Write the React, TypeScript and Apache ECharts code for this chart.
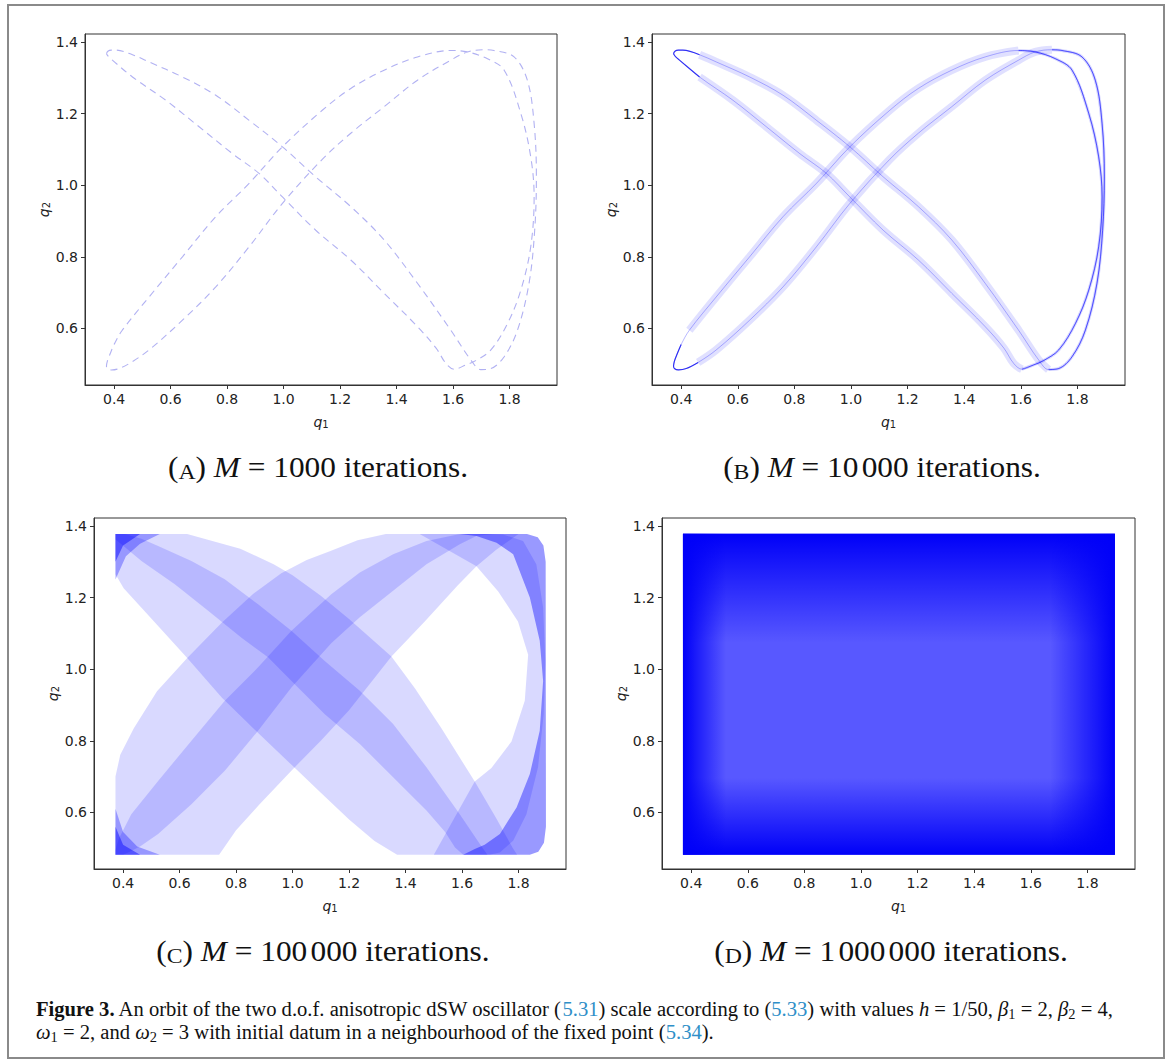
import React, { useEffect, useRef } from 'react';
import * as echarts from 'echarts';

// ---------- axes ----------
const xTicks = [0.4, 0.6, 0.8, 1.0, 1.2, 1.4, 1.6, 1.8];
const yTicks = [0.6, 0.8, 1.0, 1.2, 1.4];
const xRange = [0.297, 1.968];
const yRange = [0.442, 1.422];

// ---------- orbit strands (A) and (B) ----------
const strandD1 = [
  [0.373, 1.367], [0.378, 1.374], [0.390, 1.377], [0.406, 1.377], [0.465, 1.364], [0.524, 1.344],
  [0.642, 1.302], [0.760, 1.251], [0.878, 1.181], [0.996, 1.107], [1.114, 1.023], [1.238, 0.940],
  [1.356, 0.847], [1.474, 0.726], [1.592, 0.595], [1.663, 0.512], [1.698, 0.485],
];
const strandRightOuter = [
  [1.698, 0.485], [1.734, 0.488], [1.781, 0.521], [1.828, 0.595], [1.869, 0.726], [1.889, 0.874],
  [1.895, 1.023], [1.887, 1.172], [1.863, 1.293], [1.816, 1.358], [1.745, 1.376], [1.710, 1.378],
];
const strandU2 = [
  [1.710, 1.378], [1.651, 1.372], [1.592, 1.349], [1.474, 1.293], [1.356, 1.219], [1.238, 1.145],
  [1.137, 1.072], [0.996, 0.949], [0.878, 0.828], [0.760, 0.716], [0.642, 0.623], [0.524, 0.540],
  [0.460, 0.505], [0.418, 0.488], [0.390, 0.484], [0.376, 0.488], [0.373, 0.495],
];
const strandU1 = [
  [0.373, 0.495], [0.376, 0.508], [0.384, 0.525], [0.400, 0.555], [0.429, 0.595], [0.524, 0.688],
  [0.642, 0.800], [0.760, 0.912], [0.878, 1.005], [0.996, 1.107], [1.137, 1.209], [1.238, 1.270],
  [1.356, 1.321], [1.474, 1.358], [1.592, 1.376],
];
const strandRightInner = [
  [1.592, 1.376], [1.651, 1.372], [1.722, 1.353], [1.781, 1.321], [1.840, 1.200], [1.875, 1.079],
  [1.887, 0.967], [1.875, 0.828], [1.840, 0.707], [1.793, 0.614], [1.734, 0.540], [1.680, 0.510],
  [1.645, 0.498], [1.604, 0.486],
];
const strandD2 = [
  [1.604, 0.486], [1.575, 0.502], [1.540, 0.545], [1.474, 0.605], [1.356, 0.698], [1.238, 0.791],
  [1.114, 0.874], [0.996, 0.967], [0.913, 1.033], [0.819, 1.088], [0.701, 1.163], [0.583, 1.237],
  [0.465, 1.302], [0.394, 1.349], [0.380, 1.359], [0.373, 1.367],
];

// ---------- coverage regions ----------
const cBandDRa = [
  [0.373, 1.377], [0.627, 1.377], [0.697, 1.362], [0.815, 1.336], [0.933, 1.293], [1.0, 1.262],
  [1.1, 1.205], [1.2, 1.140], [1.35, 1.035], [1.433, 0.947], [1.527, 0.835], [1.645, 0.686],
  [1.72, 0.585], [1.78, 0.50], [1.795, 0.482],
  [1.604, 0.482], [1.575, 0.502], [1.540, 0.545], [1.474, 0.605], [1.356, 0.698], [1.238, 0.791],
  [1.114, 0.874], [0.996, 0.967], [0.913, 1.033], [0.819, 1.088], [0.701, 1.163], [0.583, 1.237],
  [0.465, 1.302], [0.394, 1.349], [0.373, 1.362],
];
const cBandDRb = [
  [0.373, 1.377], [0.406, 1.377], [0.465, 1.364], [0.524, 1.344], [0.642, 1.302], [0.760, 1.251],
  [0.878, 1.181], [0.996, 1.107], [1.114, 1.023], [1.238, 0.940], [1.356, 0.847], [1.474, 0.726],
  [1.592, 0.595], [1.663, 0.512], [1.690, 0.482],
  [1.37, 0.482], [1.29, 0.52], [1.2, 0.58], [1.1, 0.655], [1.0, 0.73], [0.88, 0.82], [0.75, 0.92],
  [0.627, 1.031], [0.52, 1.124], [0.402, 1.226], [0.373, 1.265],
];
const cBandURa = [
  [0.373, 0.70], [0.39, 0.761], [0.438, 0.835], [0.52, 0.938], [0.627, 1.031], [0.75, 1.13],
  [0.86, 1.21], [0.96, 1.268], [1.05, 1.305], [1.134, 1.33], [1.23, 1.36], [1.33, 1.377],
  [1.71, 1.377], [1.651, 1.372], [1.592, 1.349], [1.474, 1.293], [1.356, 1.219], [1.238, 1.145],
  [1.137, 1.072], [0.996, 0.949], [0.878, 0.828], [0.760, 0.716], [0.642, 0.623], [0.524, 0.540],
  [0.460, 0.505], [0.418, 0.488], [0.40, 0.482], [0.373, 0.482],
];
const cBandURb = [
  [0.373, 0.482], [0.373, 0.495], [0.384, 0.525], [0.429, 0.595], [0.524, 0.688], [0.642, 0.800],
  [0.760, 0.912], [0.878, 1.005], [0.996, 1.107], [1.137, 1.209], [1.238, 1.270], [1.356, 1.321],
  [1.474, 1.358], [1.592, 1.377],
  [1.80, 1.377], [1.72, 1.333], [1.651, 1.287], [1.586, 1.235], [1.468, 1.133], [1.35, 1.035],
  [1.2, 0.885], [1.1, 0.80], [1.0, 0.72], [0.88, 0.62], [0.80, 0.55], [0.74, 0.482],
];
const cRimRight = [
  [1.592, 1.377], [1.83, 1.377], [1.868, 1.368], [1.888, 1.345], [1.896, 1.30], [1.897, 0.56],
  [1.89, 0.515], [1.87, 0.490], [1.84, 0.482], [1.604, 0.482],
  [1.645, 0.498], [1.680, 0.510], [1.734, 0.540], [1.793, 0.614], [1.840, 0.707], [1.875, 0.828],
  [1.887, 0.967], [1.875, 1.079], [1.840, 1.200], [1.781, 1.321], [1.722, 1.353], [1.651, 1.372],
];
const cLobeRight = [
  [1.45, 1.377], [1.71, 1.377], [1.745, 1.376], [1.816, 1.358], [1.863, 1.293], [1.887, 1.172],
  [1.895, 1.023], [1.889, 0.874], [1.869, 0.726], [1.828, 0.595], [1.781, 0.521], [1.734, 0.488],
  [1.698, 0.482], [1.50, 0.482],
  [1.645, 0.686], [1.704, 0.724], [1.775, 0.798], [1.822, 0.912], [1.834, 1.04], [1.798, 1.133],
  [1.728, 1.217], [1.651, 1.287],
];
const cCornerTL = [[0.373, 1.377], [0.53, 1.377], [0.46, 1.35], [0.41, 1.315], [0.373, 1.25]];
const cCornerTLcore = [[0.373, 1.377], [0.46, 1.377], [0.40, 1.345], [0.373, 1.30]];
const cCornerBL = [[0.373, 0.482], [0.53, 0.482], [0.45, 0.505], [0.40, 0.545], [0.373, 0.61]];
const cCornerBLcore = [[0.373, 0.482], [0.46, 0.482], [0.40, 0.51], [0.373, 0.56]];

// ---------- panel (D) filled extent ----------
const dExtent = [[0.371, 0.482], [1.897, 1.378]];

// ---------- captions ----------
const panelLetters = ['A', 'B', 'C', 'D'];
const panelCounts = [['1000'], ['10', '000'], ['100', '000'], ['1', '000', '000']];

const grids = [
  { left: 85, top: 34, width: 472, height: 351 },
  { left: 652, top: 34, width: 473, height: 351 },
  { left: 94, top: 518, width: 472, height: 351 },
  { left: 662, top: 518, width: 473, height: 351 },
];
const captionPos = [[318, 467], [882, 467], [323, 951], [891, 951]];

const axisNameRich = {
  i: { fontStyle: 'italic', fontSize: 14, fontFamily: 'DejaVu Sans', color: '#222', lineHeight: 17, verticalAlign: 'bottom' },
  s: { fontSize: 10, fontFamily: 'DejaVu Sans', color: '#222', lineHeight: 10, verticalAlign: 'bottom' },
};

function makeX(i: number) {
  return {
    gridIndex: i, type: 'value', min: xRange[0], max: xRange[1],
    axisLine: { show: true, onZero: false, lineStyle: { color: '#333', width: 1 } },
    splitLine: { show: false },
    axisTick: { show: true, length: 4, customValues: xTicks, lineStyle: { color: '#333' } },
    axisLabel: { customValues: xTicks, formatter: (v: number) => v.toFixed(1), fontSize: 14, color: '#222', fontFamily: 'DejaVu Sans', margin: 7 },
    name: '{i|q}{s|1}', nameLocation: 'middle', nameGap: 27,
    nameTextStyle: { rich: axisNameRich },
  };
}
function makeY(i: number) {
  return {
    gridIndex: i, type: 'value', min: yRange[0], max: yRange[1],
    axisLine: { show: true, onZero: false, lineStyle: { color: '#333', width: 1 } },
    splitLine: { show: false },
    axisTick: { show: true, length: 4, customValues: yTicks, lineStyle: { color: '#333' } },
    axisLabel: { customValues: yTicks, formatter: (v: number) => v.toFixed(1), fontSize: 14, color: '#222', fontFamily: 'DejaVu Sans', margin: 7 },
    name: '{i|q}{s|2}', nameLocation: 'middle', nameGap: 34, nameRotate: 90,
    nameTextStyle: { rich: axisNameRich },
  };
}

function lineSeries(g: number, data: number[][], color: string, width: number, type: any = 'solid') {
  return {
    type: 'line', xAxisIndex: g, yAxisIndex: g, data, smooth: 0.35, symbol: 'none', showSymbol: false,
    silent: true, lineStyle: { color, width, type }, z: 2,
  };
}

function polySeries(g: number, pts: number[][], fill: string) {
  return {
    type: 'custom', xAxisIndex: g, yAxisIndex: g, data: pts, silent: true,
    renderItem: (params: any, api: any) => {
      if (params.dataIndex !== 0) return { type: 'group', children: [] };
      return { type: 'polygon', shape: { points: pts.map((p) => api.coord(p)) }, style: { fill, stroke: 'none' } };
    },
  };
}

function gradRect(x: number, y: number, w: number, h: number, dir: number[], color: string) {
  return {
    type: 'rect', shape: { x, y, width: w, height: h },
    style: {
      fill: new echarts.graphic.LinearGradient(dir[0], dir[1], dir[2], dir[3], [
        { offset: 0, color },
        { offset: 1, color: 'rgba(0,0,248,0)' },
      ]),
    },
  };
}

function buildOption() {
  const loop = [
    ...strandD1, ...strandRightOuter.slice(1), ...strandU2.slice(1),
    ...strandU1.slice(1), ...strandRightInner.slice(1), ...strandD2.slice(1),
  ];
  const series: any[] = [];
  // (A)
  series.push(lineSeries(0, loop, 'rgba(70,70,225,0.42)', 1.1, [7, 5]));
  // (B)
  const bandC = 'rgba(0,0,255,0.12)';
  series.push(lineSeries(1, strandD1.slice(4), bandC, 8));
  series.push(lineSeries(1, strandD2.slice(0, -3), bandC, 8));
  series.push(lineSeries(1, strandU2.slice(0, -4), bandC, 8));
  series.push(lineSeries(1, strandU1.slice(4), bandC, 8));
  series.push(lineSeries(1, strandRightOuter, 'rgba(0,0,255,0.16)', 3));
  series.push(lineSeries(1, strandRightInner, 'rgba(0,0,255,0.16)', 3));
  series.push(lineSeries(1, loop, 'rgba(0,0,255,0.28)', 1));
  series.push(lineSeries(1, strandRightOuter, 'rgba(0,0,255,0.5)', 1));
  series.push(lineSeries(1, strandRightInner, 'rgba(0,0,255,0.5)', 1));
  series.push(lineSeries(1, strandD1.slice(0, 5), 'rgba(0,0,240,0.75)', 1.2));
  series.push(lineSeries(1, strandD2.slice(-4), 'rgba(0,0,240,0.75)', 1.2));
  series.push(lineSeries(1, strandU2.slice(-5), 'rgba(0,0,240,0.75)', 1.2));
  series.push(lineSeries(1, strandU1.slice(0, 4), 'rgba(0,0,240,0.75)', 1.2));
  // (C)
  const cFill = 'rgba(0,0,255,0.15)';
  [cBandDRa, cBandDRb, cBandURa, cBandURb, cLobeRight].forEach((p) => series.push(polySeries(2, p, cFill)));
  series.push(polySeries(2, cRimRight, 'rgba(0,0,255,0.4)'));
  series.push(polySeries(2, cCornerTL, 'rgba(0,0,255,0.3)'));
  series.push(polySeries(2, cCornerTLcore, 'rgba(0,0,255,0.45)'));
  series.push(polySeries(2, cCornerBL, 'rgba(0,0,255,0.3)'));
  series.push(polySeries(2, cCornerBLcore, 'rgba(0,0,255,0.45)'));
  // (D)
  series.push({
    type: 'custom', xAxisIndex: 3, yAxisIndex: 3, data: dExtent, silent: true,
    renderItem: (params: any, api: any) => {
      if (params.dataIndex !== 0) return { type: 'group', children: [] };
      const p0 = api.coord(dExtent[0]);
      const p1 = api.coord(dExtent[1]);
      const x = p0[0], y = p1[1], w = p1[0] - p0[0], h = p0[1] - p1[1];
      return {
        type: 'group',
        children: [
          { type: 'rect', shape: { x, y, width: w, height: h }, style: { fill: 'rgb(88,88,255)' } },
          gradRect(x, y, w, h * 0.34, [0, 0, 0, 1], 'rgba(0,0,248,1)'),
          gradRect(x, y + h * 0.76, w, h * 0.24, [0, 1, 0, 0], 'rgba(0,0,248,1)'),
          gradRect(x, y, w * 0.1, h, [0, 0, 1, 0], 'rgba(0,0,248,1)'),
          gradRect(x + w * 0.85, y, w * 0.15, h, [1, 0, 0, 0], 'rgba(0,0,248,1)'),
        ],
      };
    },
  });

  const serif = 'Liberation Serif';
  const graphic: any[] = [
    { type: 'rect', silent: true, z: -10, shape: { x: 8, y: 5, width: 1156, height: 1053 }, style: { fill: 'none', stroke: '#8a8a8a', lineWidth: 2 } },
  ];
  panelLetters.forEach((L, k) => {
    const num = panelCounts[k].map((g, j) => (j === 0 ? g : `{g|${g}}`)).join('');
    graphic.push({
      type: 'text', x: captionPos[k][0], y: captionPos[k][1], scaleX: 1.08, silent: true,
      style: {
        text: `({sc|${L}}) {i|M} = ${num} iterations.`,
        align: 'center', verticalAlign: 'middle', fontFamily: serif, fontSize: 29, lineHeight: 31, fill: '#111',
        rich: {
          sc: { fontFamily: serif, fontSize: 22, lineHeight: 27, verticalAlign: 'bottom', fill: '#111' },
          i: { fontFamily: serif, fontSize: 29, fontStyle: 'italic', fill: '#111' },
          g: { fontFamily: serif, fontSize: 29, fill: '#111', padding: [0, 0, 0, 3] },
        },
      },
    });
  });
  const capRich = {
    b: { fontFamily: serif, fontSize: 20, fontWeight: 'bold', fill: '#111' },
    l: { fontFamily: serif, fontSize: 20, fill: '#2f8fc8' },
    i: { fontFamily: serif, fontSize: 20, fontStyle: 'italic', fill: '#111' },
    s: { fontFamily: serif, fontSize: 14, lineHeight: 15, verticalAlign: 'bottom', fill: '#111' },
  };
  const capLines = [
    '{b|Figure 3.} An orbit of the two d.o.f. anisotropic dSW oscillator ({l|5.31}) scale according to ({l|5.33}) with values {i|h} = 1/50, {i|β}{s|1} = 2, {i|β}{s|2} = 4,',
    '{i|ω}{s|1} = 2, and {i|ω}{s|2} = 3 with initial datum in a neighbourhood of the fixed point ({l|5.34}).',
  ];
  capLines.forEach((t, k) => {
    graphic.push({
      type: 'text', x: 36, y: 1009 + k * 23, scaleX: 1.03, silent: true,
      style: { text: t, align: 'left', verticalAlign: 'middle', fontFamily: serif, fontSize: 20, lineHeight: 24, fill: '#111', rich: capRich },
    });
  });

  return {
    animation: false,
    backgroundColor: '#fff',
    grid: grids.map((g) => ({ ...g, show: true, borderColor: '#333', borderWidth: 1, backgroundColor: 'transparent' })),
    xAxis: grids.map((_, i) => makeX(i)),
    yAxis: grids.map((_, i) => makeY(i)),
    series,
    graphic,
  };
}

export default function App() {
  const ref = useRef<HTMLDivElement>(null);
  useEffect(() => {
    const chart = echarts.init(ref.current!, null, { renderer: 'svg' });
    chart.setOption(buildOption() as any);
    return () => chart.dispose();
  }, []);
  return <div ref={ref} style={{ position: 'fixed', left: 0, top: 0, width: 1171, height: 1063, background: '#fff' }} />;
}
